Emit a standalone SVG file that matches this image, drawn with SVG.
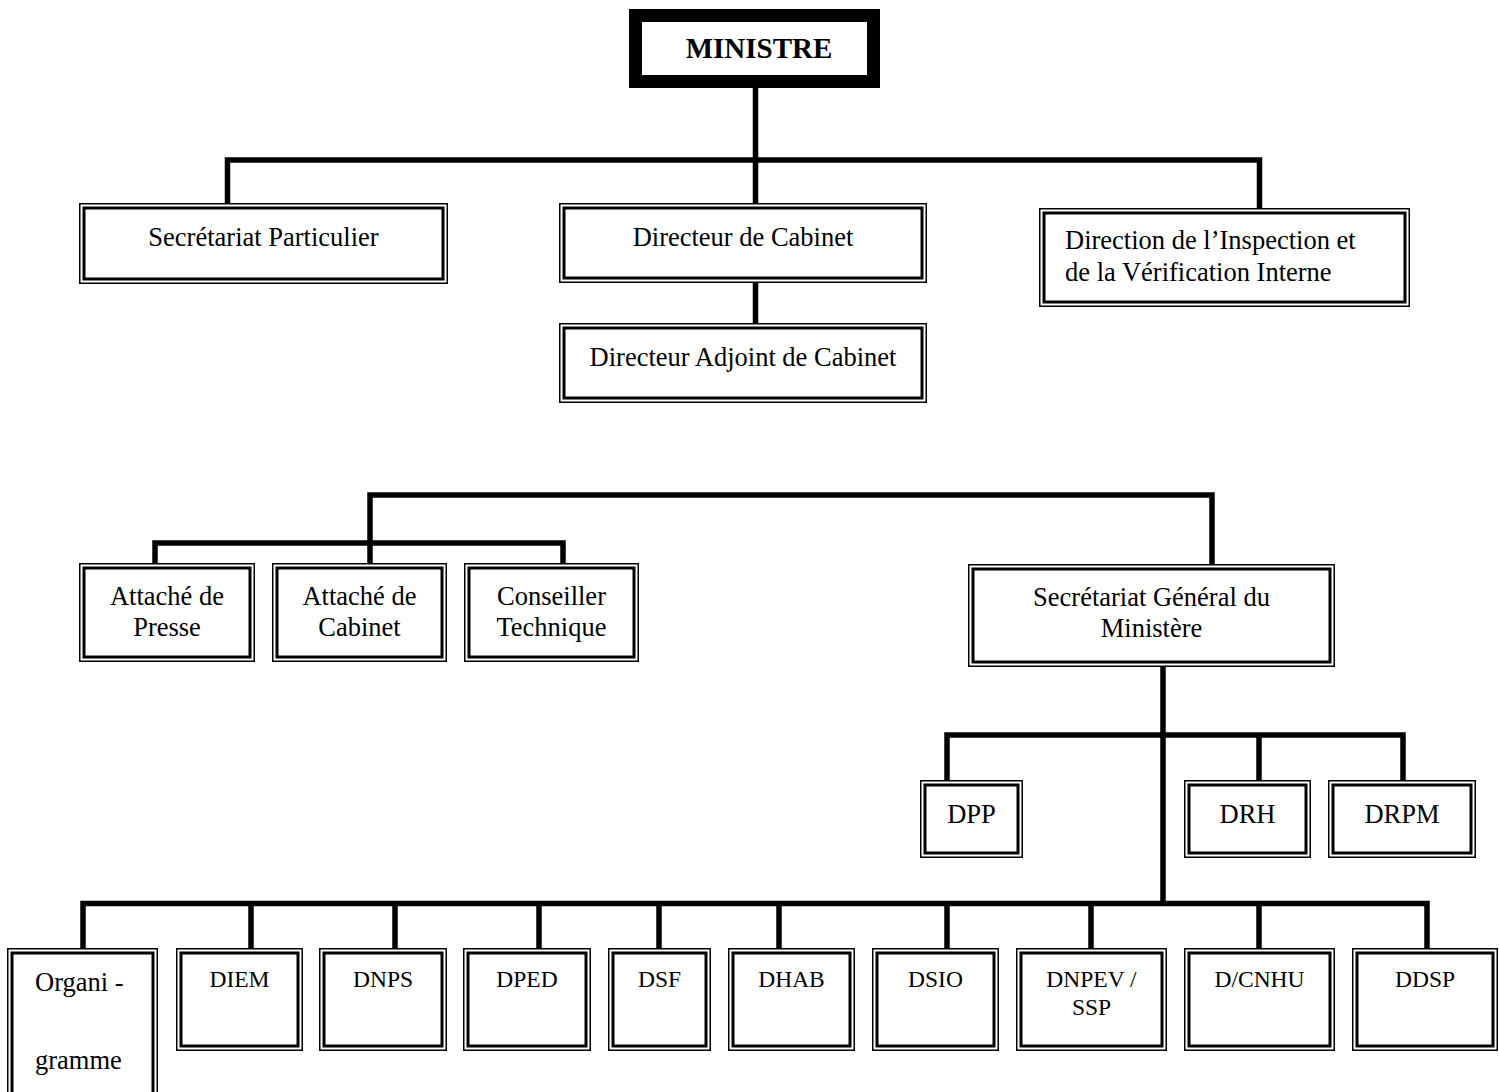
<svg xmlns="http://www.w3.org/2000/svg" width="1499" height="1092" viewBox="0 0 1499 1092">
<style>
.o{fill:#fff;stroke:#000;stroke-width:1.5}
.i{fill:none;stroke:#000;stroke-width:3}
.c{fill:none;stroke:#000;stroke-width:5.5;stroke-linejoin:miter}
text{font-family:"Liberation Serif","Times New Roman",serif;font-size:26.5px;fill:#000}
.m{text-anchor:middle}
.s{font-size:23.5px}
</style>
<rect width="1499" height="1092" fill="#fff"/>
<g id="connectors">
<path class="c" d="M755.5 88V160"/>
<path class="c" d="M227.5 203V160H1259.5V208"/>
<path class="c" d="M755.5 160V203"/>
<path class="c" d="M755.5 283V323"/>
<path class="c" d="M370 563V495H1212V564"/>
<path class="c" d="M155 563V543H563V563"/>
<path class="c" d="M1163 667V903.5"/>
<path class="c" d="M947 780V735H1403V780"/>
<path class="c" d="M1259 735V780"/>
<path class="c" d="M83 948V903.5H1427V948"/>
<path class="c" d="M251 903.5V948M395 903.5V948M539 903.5V948M659 903.5V948M779 903.5V948M947 903.5V948M1091 903.5V948M1259 903.5V948"/>
</g>
<g id="ministre">
<rect x="635.5" y="15.5" width="238" height="66" fill="#fff" stroke="#000" stroke-width="13"/>
<text x="759" y="58" class="m" font-weight="bold" style="font-size:29px">MINISTRE</text>
</g>
<g id="secretariat-particulier">
<rect class="o" x="79.75" y="203.75" width="367.5" height="79.5"/><rect class="i" x="84" y="208" width="359" height="71"/>
<text x="263.5" y="246" class="m">Secrétariat Particulier</text>
</g>
<g id="directeur-cabinet">
<rect class="o" x="559.75" y="203.75" width="366.5" height="78.5"/><rect class="i" x="564" y="208" width="358" height="70"/>
<text x="743" y="246" class="m">Directeur de Cabinet</text>
</g>
<g id="direction-inspection">
<rect class="o" x="1039.75" y="208.75" width="369.5" height="97.5"/><rect class="i" x="1044" y="213" width="361" height="89"/>
<text x="1065" y="249">Direction de l’Inspection et</text>
<text x="1065" y="281">de la Vérification Interne</text>
</g>
<g id="directeur-adjoint">
<rect class="o" x="559.75" y="323.75" width="366.5" height="78.5"/><rect class="i" x="564" y="328" width="358" height="70"/>
<text x="743" y="366" class="m">Directeur Adjoint de Cabinet</text>
</g>
<g id="attache-presse">
<rect class="o" x="79.75" y="563.75" width="174.5" height="97.5"/><rect class="i" x="84" y="568" width="166" height="89"/>
<text x="167" y="605" class="m">Attaché de</text>
<text x="167" y="636" class="m">Presse</text>
</g>
<g id="attache-cabinet">
<rect class="o" x="272.75" y="563.75" width="173.5" height="97.5"/><rect class="i" x="277" y="568" width="165" height="89"/>
<text x="359.5" y="605" class="m">Attaché de</text>
<text x="359.5" y="636" class="m">Cabinet</text>
</g>
<g id="conseiller-technique">
<rect class="o" x="464.75" y="563.75" width="173.5" height="97.5"/><rect class="i" x="469" y="568" width="165" height="89"/>
<text x="551.5" y="605" class="m">Conseiller</text>
<text x="551.5" y="636" class="m">Technique</text>
</g>
<g id="secretariat-general">
<rect class="o" x="968.75" y="564.75" width="365.5" height="101.5"/><rect class="i" x="973" y="569" width="357" height="93"/>
<text x="1151.5" y="606" class="m">Secrétariat Général du</text>
<text x="1151.5" y="637" class="m">Ministère</text>
</g>
<g id="dpp">
<rect class="o" x="920.75" y="780.75" width="101.5" height="76.5"/><rect class="i" x="925" y="785" width="93" height="68"/>
<text x="971.5" y="823" class="m">DPP</text>
</g>
<g id="drh">
<rect class="o" x="1184.75" y="780.75" width="125.5" height="76.5"/><rect class="i" x="1189" y="785" width="117" height="68"/>
<text x="1247.5" y="823" class="m">DRH</text>
</g>
<g id="drpm">
<rect class="o" x="1328.75" y="780.75" width="146.5" height="76.5"/><rect class="i" x="1333" y="785" width="138" height="68"/>
<text x="1402" y="823" class="m">DRPM</text>
</g>
<g id="organigramme">
<rect class="o" x="7.75" y="948.75" width="149.5" height="160.5"/><rect class="i" x="12" y="953" width="141" height="152"/>
<text x="35" y="991">Organi -</text>
<text x="35" y="1069">gramme</text>
</g>
<g id="diem">
<rect class="o" x="176.75" y="948.75" width="125.5" height="101.5"/><rect class="i" x="181" y="953" width="117" height="93"/>
<text x="239.5" y="987" class="m s">DIEM</text>
</g>
<g id="dnps">
<rect class="o" x="319.75" y="948.75" width="126.5" height="101.5"/><rect class="i" x="324" y="953" width="118" height="93"/>
<text x="383" y="987" class="m s">DNPS</text>
</g>
<g id="dped">
<rect class="o" x="463.75" y="948.75" width="126.5" height="101.5"/><rect class="i" x="468" y="953" width="118" height="93"/>
<text x="527" y="987" class="m s">DPED</text>
</g>
<g id="dsf">
<rect class="o" x="608.75" y="948.75" width="101.5" height="101.5"/><rect class="i" x="613" y="953" width="93" height="93"/>
<text x="659.5" y="987" class="m s">DSF</text>
</g>
<g id="dhab">
<rect class="o" x="728.75" y="948.75" width="125.5" height="101.5"/><rect class="i" x="733" y="953" width="117" height="93"/>
<text x="791.5" y="987" class="m s">DHAB</text>
</g>
<g id="dsio">
<rect class="o" x="872.75" y="948.75" width="125.5" height="101.5"/><rect class="i" x="877" y="953" width="117" height="93"/>
<text x="935.5" y="987" class="m s">DSIO</text>
</g>
<g id="dnpev">
<rect class="o" x="1016.75" y="948.75" width="149.5" height="101.5"/><rect class="i" x="1021" y="953" width="141" height="93"/>
<text x="1091.5" y="987" class="m s">DNPEV /</text>
<text x="1091.5" y="1015" class="m s">SSP</text>
</g>
<g id="dcnhu">
<rect class="o" x="1184.75" y="948.75" width="149.5" height="101.5"/><rect class="i" x="1189" y="953" width="141" height="93"/>
<text x="1259.5" y="987" class="m s">D/CNHU</text>
</g>
<g id="ddsp">
<rect class="o" x="1352.75" y="948.75" width="144.5" height="101.5"/><rect class="i" x="1357" y="953" width="136" height="93"/>
<text x="1425" y="987" class="m s">DDSP</text>
</g>
</svg>
